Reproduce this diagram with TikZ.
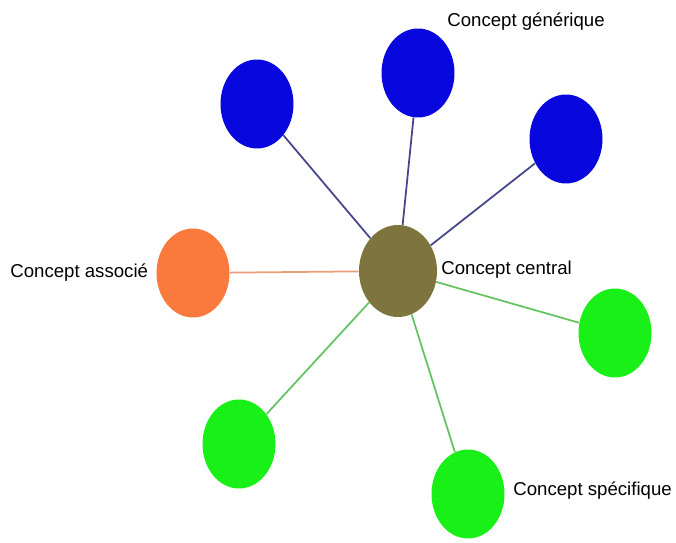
\documentclass[tikz,border=0pt]{standalone}
\usepackage{fontspec}
\setmainfont{Liberation Sans}
\usetikzlibrary{shapes.geometric,positioning}
\definecolor{genblue}{RGB}{8,8,222}
\definecolor{centralolive}{RGB}{126,116,62}
\definecolor{assocorange}{RGB}{250,122,62}
\definecolor{specgreen}{RGB}{24,240,24}
\definecolor{genline}{RGB}{70,70,140}
\definecolor{assocline}{RGB}{232,160,120}
\definecolor{specline}{RGB}{100,196,100}

\begin{document}
\begin{tikzpicture}[x=0.02cm,y=-0.02cm,
    concept/.style={ellipse,inner sep=0pt,minimum width=1.46cm,minimum height=1.78cm},
    lbl/.style={font=\fontsize{10.6}{12}\selectfont,anchor=west,inner sep=0pt,text=black}]
  \useasboundingbox[fill=white] (0,0) rectangle (676,543);
  % central concept
  \node[concept,fill=centralolive,minimum width=1.56cm,minimum height=1.84cm] (central) at (398,271) {};
  % generic concepts
  \foreach \n/\x/\y in {gen1/257/104,gen2/418/73,gen3/566/139}
    \node[concept,fill=genblue] (\n) at (\x,\y) {};
  % associated concept
  \node[concept,fill=assocorange] (assoc) at (193,273) {};
  % specific concepts
  \foreach \n/\x/\y in {spec1/615/333,spec2/239/444,spec3/468/494}
    \node[concept,fill=specgreen] (\n) at (\x,\y) {};
  % links
  \foreach \n in {gen1,gen2,gen3}
    \draw[genline,line width=1pt] (central) -- (\n);
  \draw[assocline,line width=1pt] (central) -- (assoc);
  \foreach \n in {spec1,spec2,spec3}
    \draw[specline,line width=1pt] (central) -- (\n);
  % labels
  \node[lbl] (lgen) at (447,22) {Concept générique};
  \node[lbl] (lassoc) at (10,273) {Concept associé};
  \node[lbl] (lcentral) at (441,270) {Concept central};
  \node[lbl] (lspec) at (513,491) {Concept spécifique};
\end{tikzpicture}
\end{document}
